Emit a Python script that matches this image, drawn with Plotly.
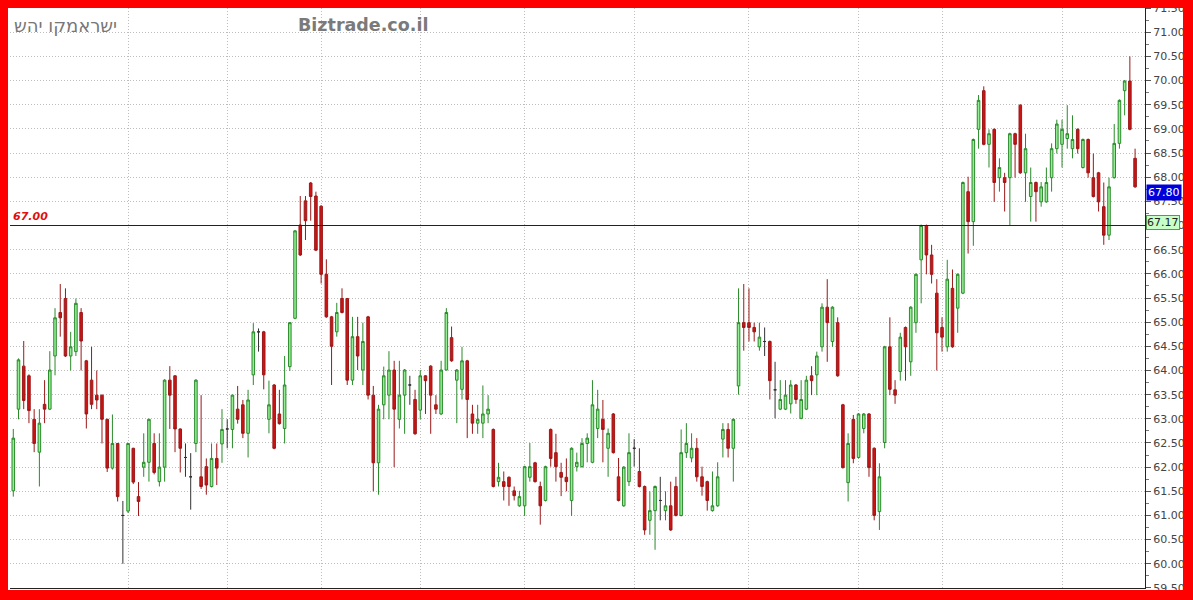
import plotly.graph_objects as go

# ---- data ----
open_ = [61.51,63.20,64.09,63.89,62.99,62.31,63.30,63.20,64.30,65.20,65.49,64.30,64.39,65.20,64.20,63.80,63.49,63.49,62.99,61.98,
         62.49,61.00,61.09,62.39,61.39,62.00,62.10,62.49,61.70,62.00,63.80,63.89,62.79,62.20,61.80,62.49,61.80,62.01,61.60,62.18,
         62.48,62.79,62.78,63.20,63.29,62.70,63.91,64.80,64.80,62.99,63.70,63.10,62.80,64.08,65.08,67.01,67.51,67.88,67.61,67.40,
         65.99,65.11,64.80,65.49,65.49,63.80,64.70,64.01,65.11,63.49,62.09,63.29,63.49,64.01,62.99,63.49,63.70,63.40,63.18,63.89,
         64.09,63.29,63.10,64.01,64.68,63.80,63.61,64.20,63.10,62.91,62.91,63.10,62.78,61.70,61.70,61.79,61.51,61.20,61.20,61.79,
         62.09,61.60,61.31,62.78,62.30,61.89,61.79,61.31,62.01,62.01,62.49,62.10,62.80,62.99,62.39,63.10,61.80,61.20,61.70,62.39,
         61.91,61.60,60.90,61.10,61.31,61.10,61.20,61.60,61.00,62.30,62.19,62.39,61.80,61.70,61.10,61.20,62.58,62.78,62.39,63.68,
         64.99,64.99,64.89,64.49,64.60,64.60,63.60,63.20,63.20,63.31,63.70,63.01,63.20,63.89,63.91,64.49,65.31,64.60,64.99,63.29,
         61.68,62.99,62.20,62.80,63.10,62.39,61.08,62.51,64.49,63.60,63.98,64.89,64.18,64.99,66.29,67.00,66.39,65.60,64.89,64.49,
         65.70,65.29,65.60,67.70,67.08,68.99,69.79,68.68,68.99,67.99,67.99,67.99,68.90,69.49,68.09,67.60,67.89,67.49,67.49,67.99,
         68.59,68.68,68.80,68.59,68.99,68.20,68.78,67.99,68.09,67.39,66.80,67.99,68.70,69.79,69.99,68.39]
high = [62.79,64.25,64.61,63.92,63.20,63.20,63.80,64.40,65.29,65.79,65.70,64.80,65.49,65.29,64.22,64.49,64.00,63.50,63.00,63.09,
        62.50,61.30,62.50,62.40,61.69,62.70,63.00,62.70,62.70,63.82,64.09,63.90,62.80,62.49,62.29,63.82,63.49,62.18,62.49,62.49,
        63.20,62.99,63.50,63.68,63.39,63.60,64.98,64.87,64.82,63.79,63.72,63.60,64.30,65.00,66.90,67.61,67.61,67.90,67.70,67.42,
        66.30,65.13,65.40,65.70,65.50,65.11,65.11,64.99,65.13,63.68,63.29,64.08,64.40,64.20,64.20,64.03,63.89,63.60,64.01,63.90,
        64.11,63.49,64.20,65.29,64.91,64.03,64.49,64.22,63.29,63.29,63.69,63.49,62.80,62.09,61.91,61.81,61.60,61.51,62.03,62.50,
        62.11,61.70,62.03,62.80,62.69,62.09,62.18,62.41,62.30,62.60,62.70,63.80,63.60,63.39,62.80,63.12,62.19,62.02,62.70,62.58,
        62.39,61.62,61.50,61.62,61.80,61.50,61.70,61.80,62.78,62.91,62.70,62.60,62.01,61.72,61.91,62.10,62.91,62.91,63.01,65.70,
        65.79,65.70,64.99,64.99,64.89,64.62,64.18,63.80,63.80,63.80,63.72,63.80,63.89,64.09,64.39,65.39,65.89,65.33,65.10,63.31,
        62.70,63.08,63.12,63.12,63.12,62.41,62.08,64.51,65.10,63.80,64.78,64.91,65.33,66.01,67.02,67.02,66.60,65.89,65.10,66.29,
        66.09,66.01,67.91,68.01,68.80,69.70,69.88,68.99,69.01,68.39,68.09,68.92,68.92,69.51,68.90,68.20,67.91,67.90,68.20,68.70,
        69.19,69.19,69.49,69.28,69.01,68.80,68.80,68.49,68.11,67.89,67.99,69.10,69.61,70.01,70.50,68.59]
low = [61.39,62.99,63.20,62.91,62.31,61.60,62.91,63.18,63.90,64.70,64.28,64.00,64.30,64.00,62.80,63.20,63.20,62.49,61.90,61.95,
       61.29,60.00,61.05,61.65,60.99,61.80,61.70,61.85,61.60,61.70,62.79,62.31,61.89,61.80,61.12,62.31,61.55,61.43,61.58,61.63,
       62.09,62.39,62.39,62.90,62.60,62.20,63.70,64.39,63.61,62.70,62.37,62.88,62.49,63.99,65.06,66.37,66.70,67.10,66.47,65.80,
       65.09,63.70,64.70,65.18,63.70,63.70,64.01,63.70,63.40,61.50,61.43,62.99,62.99,62.00,62.80,62.69,63.29,62.67,62.99,63.10,
       62.69,63.10,63.08,64.00,64.18,62.91,63.40,62.60,62.69,62.69,62.60,62.91,61.58,61.60,61.31,61.20,61.31,61.18,60.99,61.70,
       61.68,60.81,61.29,62.01,61.70,61.40,61.50,60.99,61.91,61.99,62.10,62.08,62.60,62.10,61.80,62.28,61.29,61.18,61.61,62.01,
       61.58,60.60,60.60,60.29,60.90,60.90,60.68,60.98,60.98,62.19,62.10,61.70,61.41,61.10,61.08,61.18,62.20,62.20,61.70,63.50,
       64.41,64.60,64.60,64.41,64.30,63.40,63.01,63.18,63.18,63.11,63.31,62.99,63.18,63.49,63.49,64.39,64.18,64.49,63.87,61.97,
       61.29,62.08,62.18,62.70,61.80,60.90,60.70,62.39,63.49,63.31,63.79,63.79,63.89,64.78,65.39,65.99,65.80,64.00,64.39,64.39,
       64.47,64.78,65.58,66.42,66.58,68.59,68.66,68.20,67.49,67.70,67.29,67.01,67.99,68.07,67.49,67.08,67.08,67.39,67.47,67.70,
       68.49,68.20,68.59,68.39,68.49,68.18,67.99,67.58,67.29,66.60,66.70,67.97,68.59,69.28,68.97,67.78]
close = [62.60,64.22,63.38,63.17,62.49,62.91,63.20,64.01,65.09,65.09,64.30,64.49,65.39,64.61,63.10,63.30,63.39,62.99,61.98,62.49,
         61.39,61.00,62.49,61.69,61.29,62.10,62.99,61.89,62.00,63.80,63.49,62.79,62.39,62.20,61.80,63.80,61.60,61.63,62.18,61.98,
         62.78,62.79,63.49,62.99,62.70,63.39,64.80,64.80,63.91,63.29,62.39,62.90,63.70,64.99,66.89,66.39,67.10,67.60,66.49,65.99,
         65.11,64.50,65.20,65.20,63.80,64.70,64.30,64.60,63.49,62.09,63.20,63.89,64.01,63.20,63.49,64.01,63.70,62.69,63.89,63.79,
         63.49,63.20,64.01,65.20,64.20,64.01,64.20,63.40,62.91,62.99,63.10,63.20,61.60,61.79,61.60,61.60,61.41,61.39,62.01,62.01,
         61.70,61.20,62.01,62.18,62.01,61.79,61.70,62.39,62.10,62.49,62.60,63.29,63.20,62.78,62.70,62.30,61.31,62.00,62.30,62.39,
         61.60,60.70,61.10,61.60,61.31,61.20,60.70,61.00,62.30,62.49,62.39,61.80,61.60,61.31,61.20,61.80,62.78,62.39,62.99,64.99,
         64.89,64.89,64.80,64.69,64.60,63.79,63.60,63.40,63.49,63.70,63.40,63.40,63.80,63.79,64.30,65.31,64.99,65.31,63.89,61.99,
         62.49,62.18,63.10,63.10,61.99,61.00,61.80,64.49,63.61,63.49,64.69,64.49,65.31,65.99,67.00,66.39,65.99,64.78,64.69,65.89,
         64.49,65.99,67.89,67.08,68.78,69.59,68.68,68.90,67.89,68.20,67.89,68.90,68.68,68.09,68.59,67.89,67.70,67.80,67.89,68.59,
         69.10,68.99,68.90,68.78,68.59,68.78,68.09,67.60,67.49,66.80,67.80,68.70,69.59,69.99,68.99,67.80]

day = list(range(len(close)))
month_starts = [22, 41, 59, 78, 98, 119, 141, 162, 178, 201]
ref_level = 67.00
last_price = 67.80
marker_level = 67.17

title_he = "ישראמקו יהש"
watermark = "Biztrade.co.il"

# split regular candles and dojis
reg = [i for i in day if open_[i] != close[i]]
doj = [i for i in day if open_[i] == close[i]]

fig = go.Figure()
fig.add_trace(go.Candlestick(
    x=[day[i] for i in reg], open=[open_[i] for i in reg], high=[high[i] for i in reg],
    low=[low[i] for i in reg], close=[close[i] for i in reg],
    increasing=dict(line=dict(color="#2a8a2a", width=1), fillcolor="#94ee94"),
    decreasing=dict(line=dict(color="#9c1818", width=1), fillcolor="#cc1414"),
    whiskerwidth=0, hoverinfo="skip", showlegend=False))
fig.add_trace(go.Candlestick(
    x=[day[i] for i in doj], open=[open_[i] for i in doj], high=[high[i] for i in doj],
    low=[low[i] for i in doj], close=[close[i] for i in doj],
    increasing=dict(line=dict(color="#333333", width=1), fillcolor="#333333"),
    decreasing=dict(line=dict(color="#333333", width=1), fillcolor="#333333"),
    whiskerwidth=0, hoverinfo="skip", showlegend=False))

W, H = 1193, 600
L, R, T, B = 10, 48, 8, 12
pw, ph = W - L - R, H - T - B

def px(x):
    return (x - L) / pw

def py(y):
    return (H - B - y) / ph

grid = dict(showgrid=True, gridcolor="#bdbdbd", griddash="1px,2px", gridwidth=1)

fig.update_layout(
    width=W, height=H,
    margin=dict(l=L, r=R, t=T, b=B, pad=0, autoexpand=False),
    paper_bgcolor="white", plot_bgcolor="white",
    showlegend=False,
    font=dict(family="DejaVu Sans", size=11, color="#444444"),
    xaxis=dict(range=[-0.63, 216.9], rangeslider=dict(visible=False), automargin=False,
               tickvals=month_starts, showticklabels=False, ticks="",
               showline=True, linecolor="#222222", linewidth=1, zeroline=False,
               fixedrange=True, **grid),
    yaxis=dict(range=[59.499, 71.501], side="right", dtick=0.5, tick0=59.5, automargin=False,
               tickformat=".2f", ticks="outside", ticklen=5, tickcolor="#555555",
               showline=True, linecolor="#222222", linewidth=1, zeroline=False,
               minor=dict(dtick=0.25, ticks="outside", ticklen=3, tickcolor="#777777", showgrid=False),
               tickfont=dict(family="DejaVu Sans", size=11, color="#444444"),
               fixedrange=True, **grid),
)

# horizontal reference line
fig.add_shape(type="line", xref="paper", yref="y", x0=0, x1=1, y0=ref_level, y1=ref_level,
              line=dict(color="#222222", width=1))

anns = [
    dict(text=title_he, xref="paper", yref="paper", x=px(12), y=py(25), xanchor="left", yanchor="middle",
         showarrow=False, font=dict(family="DejaVu Sans", size=18, color="#777777")),
    dict(text="<b>" + watermark + "</b>", xref="paper", yref="paper", x=px(296), y=py(25), xanchor="left",
         yanchor="middle", showarrow=False, font=dict(family="DejaVu Sans", size=17.5, color="#7a7a7a")),
    dict(text="<b><i>%.2f</i></b>" % ref_level, xref="paper", yref="y", x=px(11), y=ref_level, xanchor="left",
         yanchor="bottom", yshift=1, showarrow=False, font=dict(family="DejaVu Sans", size=11, color="#e01010")),
    dict(text="%.2f" % last_price, xref="paper", yref="y", x=px(1146), y=67.69, xanchor="left",
         yanchor="middle", showarrow=False, bgcolor="#0000dd", borderpad=1,
         font=dict(family="DejaVu Sans", size=11, color="white")),
    dict(text="%.2f" % marker_level, xref="paper", yref="y", x=px(1146), y=67.06, xanchor="left",
         yanchor="middle", showarrow=False, bgcolor="#c8ffc8", bordercolor="#559955", borderwidth=1, borderpad=0,
         font=dict(family="DejaVu Sans", size=11, color="#222222")),
]
fig.update_layout(annotations=anns)

# red frame
red = "#ff0000"
for (x0, x1, y0, y1) in [(0, 8, 0, 600), (1183, 1193, 0, 600), (0, 1193, 590, 600), (0, 1193, 0, 8)]:
    fig.add_shape(type="rect", xref="paper", yref="paper", x0=px(x0), x1=px(x1), y0=py(y1), y1=py(y0),
                  fillcolor=red, line=dict(width=0), layer="above")

fig.write_html("out.html", config={"displayModeBar": False, "staticPlot": True},
               post_script="document.body.style.margin='0';document.body.style.overflow='hidden';")
